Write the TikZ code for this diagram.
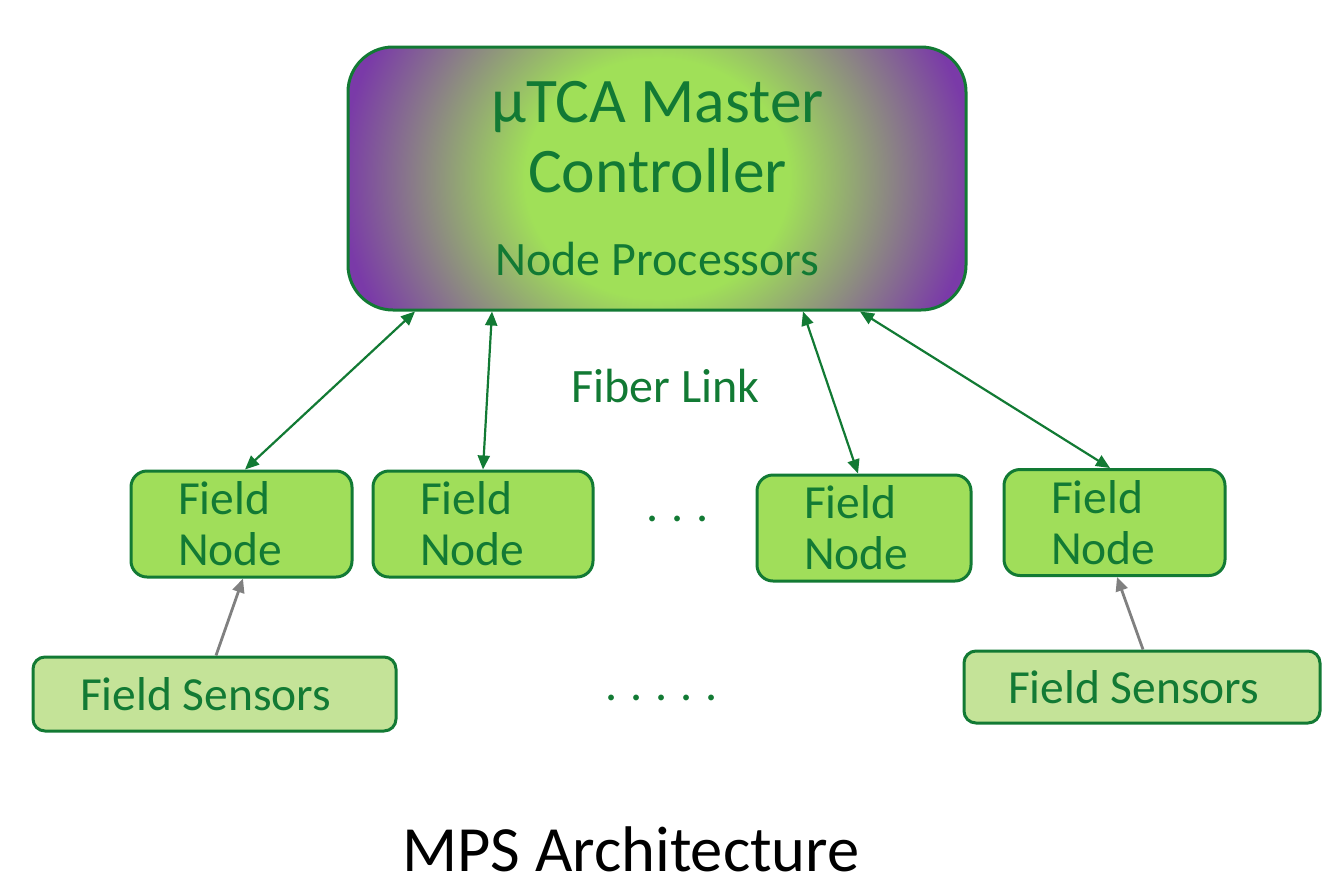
\documentclass[tikz,border=0pt]{standalone}
\usepackage{fontspec}
\setmainfont{Carlito}
\usetikzlibrary{arrows.meta,positioning}

\definecolor{dkgreen}{RGB}{18,122,52}
\definecolor{nodefill}{RGB}{160,222,90}
\definecolor{sensorfill}{RGB}{196,227,152}
\definecolor{mgreen}{RGB}{160,224,88}
\definecolor{mpurple}{RGB}{122,58,168}
\definecolor{linkgrey}{RGB}{128,128,128}

% green core fading to purple towards the sides of the controller box
% (the central 25bp radius is stretched over the shaded rectangle)
\pgfdeclareradialshading{mastershade}{\pgfpoint{0bp}{0bp}}{%
  color(0bp)=(mgreen); color(10bp)=(mgreen); color(24bp)=(mpurple); color(50bp)=(mpurple)}

\tikzset{
  masterbox/.style={draw=dkgreen, line width=3pt, rounded corners=45pt,
    minimum width=618pt, minimum height=263pt, inner sep=0pt,
    path picture={\shade[shading=mastershade]
      ([xshift=-330pt,yshift=-300pt]path picture bounding box.center)
      rectangle ([xshift=330pt,yshift=300pt]path picture bounding box.center);}},
  fieldbox/.style={draw=dkgreen, line width=3pt, fill=nodefill, rounded corners=16pt,
    minimum height=106pt, inner ysep=0pt, inner xsep=47pt, align=left,
    text=dkgreen, font=\fontsize{47.5}{51}\selectfont},
  sensorbox/.style={draw=dkgreen, line width=3pt, fill=sensorfill, rounded corners=12pt,
    inner ysep=0pt, align=left, text=dkgreen, font=\fontsize{47.5}{52}\selectfont},
  fiber/.style={draw=dkgreen, line width=2.2pt, {Triangle[length=14pt,width=12pt]}-{Triangle[length=14pt,width=12pt]}},
  feed/.style={draw=linkgrey, line width=2.8pt, -{Triangle[length=14pt,width=12pt]}},
  greentext/.style={text=dkgreen, inner sep=0pt},
}

\begin{document}
\begin{tikzpicture}[x=1pt,y=-1pt]
\useasboundingbox (0,0) rectangle (1322,876);

% controller
\node[masterbox] (master) at (657,178.5) {};
\node[greentext, anchor=base, align=center, font=\fontsize{63.5}{70}\selectfont]
  (mtitle) at (657.5,192) {µTCA Master\\Controller};
\node[greentext, anchor=base, font=\fontsize{48}{56}\selectfont]
  (mproc) at (657.5,275) {Node Processors};

% field nodes
\node[fieldbox, text width=127pt] (fn1) at (241.5,524) {Field\\Node};
\node[fieldbox, text width=126pt] (fn2) at (483,524) {Field\\Node};
\node[fieldbox, text width=120pt] (fn3) at (864,528) {Field\\Node};
\node[fieldbox, text width=127pt] (fn4) at (1114.5,522.5) {Field\\Node};

% sensors (natural interword space)
\node[sensorbox, minimum height=74pt, text width=269pt, inner xsep=47pt] (sensL) at (214.5,694) {\spaceskip=0pt\relax Field Sensors};
\node[sensorbox, minimum height=72pt, text width=268pt, inner xsep=44pt] (sensR) at (1142,687) {\spaceskip=0pt\relax Field Sensors};

% labels
\node[greentext, anchor=base, font=\fontsize{48}{56}\selectfont] (fiberlbl) at (665.5,402) {Fiber Link};
\node[greentext, anchor=base, font=\fontsize{48}{56}\selectfont] (dotsA) at (677.5,521) {.\hspace{13pt}.\hspace{13pt}.};
\node[greentext, anchor=base, font=\fontsize{48}{56}\selectfont] (dotsB) at (661.5,700) {.\hspace{13pt}.\hspace{13pt}.\hspace{13pt}.\hspace{13pt}.};
\node[anchor=base, inner sep=0pt, text depth=0pt, font=\fontsize{64.5}{76}\selectfont] (caption) at (631,871) {MPS Architecture};

% fiber links
\draw[fiber] ([xshift=-242pt]master.south) -- ([xshift=3.5pt]fn1.north);
\draw[fiber] ([xshift=-165pt]master.south) -- (fn2.north);
\draw[fiber] ([xshift=146pt]master.south) -- ([xshift=-6pt]fn3.north);
\draw[fiber] ([xshift=203pt]master.south) -- ([xshift=-4.5pt]fn4.north);

% sensor feeds
\draw[feed] ([xshift=1.5pt]sensL.north) -- ([xshift=1.5pt]fn1.south);
\draw[feed] ([xshift=1pt]sensR.north) -- ([xshift=2.5pt]fn4.south);
\end{tikzpicture}
\end{document}
